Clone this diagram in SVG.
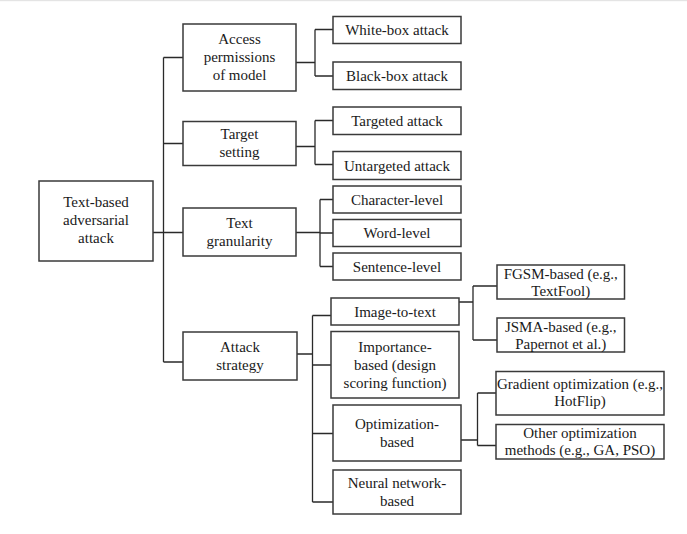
<svg xmlns="http://www.w3.org/2000/svg" width="687" height="534" viewBox="0 0 687 534">
<style>
.b{fill:#fff;stroke:#3a3a3a;stroke-width:1.5}
.c{fill:none;stroke:#2a2a2a;stroke-width:1.3}
text{font-family:'Liberation Serif','DejaVu Serif',serif;font-size:15px;fill:#1a1a1a;text-anchor:middle}
</style>
<rect x="0" y="0" width="687" height="534" fill="#fff"/>
<rect x="0" y="0" width="687" height="1.2" fill="#e4e4e4"/>
<g id="connectors">
<path class="c" d="M153 232.5H183M163.5 57.5V362M163.5 57.5H183M163.5 143.5H183M163.5 362H183"/>
<path class="c" d="M296 62.5H315M315 29.5V76M315 29.5H333M315 76H333"/>
<path class="c" d="M296 146.5H315M315 120.5V164.5M315 120.5H333M315 164.5H333"/>
<path class="c" d="M296 232.5H320M320 199.5V266.5M320 199.5H333M320 233H333M320 266.5H333"/>
<path class="c" d="M297 354H312.5M312.5 315.5V502M312.5 315.5H331M312.5 365H331M312.5 433.5H333M312.5 502H333"/>
<path class="c" d="M459 302H473M473 286V340M473 286H497M473 340H497"/>
<path class="c" d="M461 440H477.5M477.5 393V445.5M477.5 393H496M477.5 445.5H496"/>
</g>
<g id="root"><rect class="b" x="39" y="181" width="114" height="80"/><text x="96" y="207">Text-based</text><text x="96" y="225">adversarial</text><text x="96" y="243">attack</text></g>
<g id="access"><rect class="b" x="183" y="24" width="113" height="67"/><text x="239.5" y="44">Access</text><text x="239.5" y="62">permissions</text><text x="239.5" y="80">of model</text></g>
<g id="target"><rect class="b" x="183" y="121.5" width="113" height="44"/><text x="239.5" y="139">Target</text><text x="239.5" y="157">setting</text></g>
<g id="granularity"><rect class="b" x="183" y="208" width="113" height="48"/><text x="239.5" y="228">Text</text><text x="239.5" y="246">granularity</text></g>
<g id="strategy"><rect class="b" x="183" y="332" width="114" height="48"/><text x="240" y="352">Attack</text><text x="240" y="370">strategy</text></g>
<g id="whitebox"><rect class="b" x="333" y="16.5" width="128" height="27"/><text x="397" y="35">White-box attack</text></g>
<g id="blackbox"><rect class="b" x="333" y="62" width="128" height="27.5"/><text x="397" y="80.5">Black-box attack</text></g>
<g id="targeted"><rect class="b" x="333" y="107" width="128" height="27.5"/><text x="397" y="125.5">Targeted attack</text></g>
<g id="untargeted"><rect class="b" x="333" y="151.5" width="128" height="28"/><text x="397" y="170.5">Untargeted attack</text></g>
<g id="character"><rect class="b" x="333" y="186" width="128" height="27"/><text x="397" y="204.5">Character-level</text></g>
<g id="word"><rect class="b" x="333" y="219.5" width="128" height="27"/><text x="397" y="238">Word-level</text></g>
<g id="sentence"><rect class="b" x="333" y="253" width="128" height="27"/><text x="397" y="271.5">Sentence-level</text></g>
<g id="image2text"><rect class="b" x="331" y="298" width="128" height="27"/><text x="395" y="316.5">Image-to-text</text></g>
<g id="importance"><rect class="b" x="331" y="331.5" width="128" height="66.5"/><text x="395" y="351.5">Importance-</text><text x="395" y="369.5">based (design</text><text x="395" y="387.5">scoring function)</text></g>
<g id="optimization"><rect class="b" x="333" y="405" width="128" height="56"/><text x="397" y="429">Optimization-</text><text x="397" y="447">based</text></g>
<g id="neural"><rect class="b" x="333" y="470" width="128" height="44"/><text x="397" y="488">Neural network-</text><text x="397" y="506">based</text></g>
<g id="fgsm"><rect class="b" x="497" y="265" width="127.5" height="34"/><text x="560.75" y="278.5">FGSM-based (e.g.,</text><text x="560.75" y="295.5">TextFool)</text></g>
<g id="jsma"><rect class="b" x="497" y="318" width="127.5" height="34"/><text x="560.75" y="331.5">JSMA-based (e.g.,</text><text x="560.75" y="348.5">Papernot et al.)</text></g>
<g id="gradient"><rect class="b" x="496" y="371.5" width="168" height="43.5"/><text x="580" y="388.5">Gradient optimization (e.g.,</text><text x="580" y="406">HotFlip)</text></g>
<g id="other"><rect class="b" x="496" y="424.5" width="168" height="34.5"/><text x="580" y="438">Other optimization</text><text x="580" y="455">methods (e.g., GA, PSO)</text></g>
</svg>
